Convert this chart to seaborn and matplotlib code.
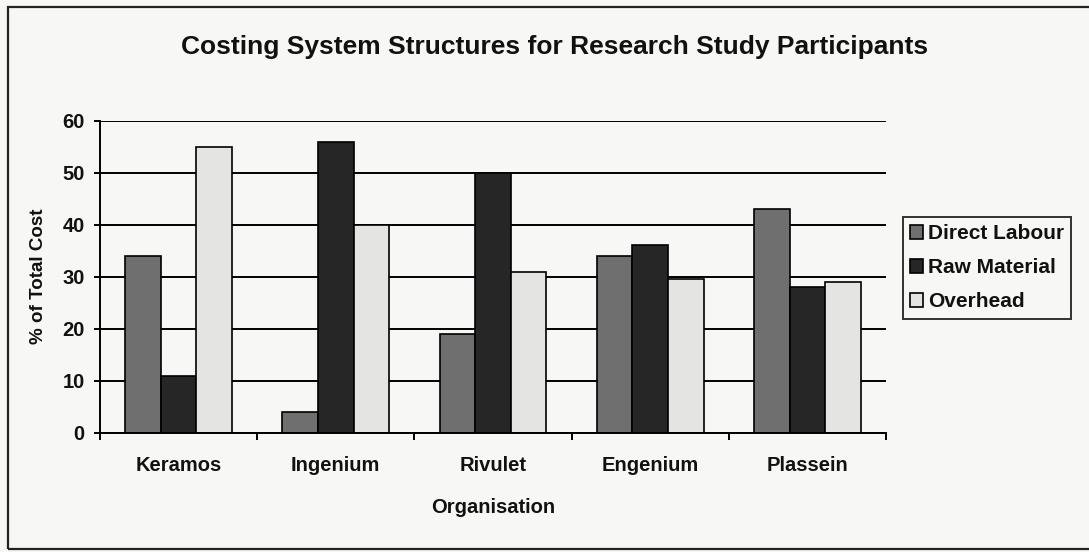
import matplotlib
matplotlib.use("Agg")
import matplotlib.pyplot as plt
from matplotlib.patches import Rectangle
import pandas as pd
import seaborn as sns

# Costing structure data (% of total cost)
organisations = ["Keramos", "Ingenium", "Rivulet", "Engenium", "Plassein"]
direct_labour = [34, 4, 19, 34, 43]
raw_material = [11, 56, 50, 36, 28]
overhead = [55, 40, 31, 29.5, 29]
series_names = ["Direct Labour", "Raw Material", "Overhead"]
series_colors = ["#6f6f6f", "#262626", "#e4e4e2"]

df = pd.DataFrame({
    "Organisation": organisations * 3,
    "Component": [series_names[0]] * 5 + [series_names[1]] * 5 + [series_names[2]] * 5,
    "Value": direct_labour + raw_material + overhead,
})

sns.set_theme(style="white")
plt.rcParams["font.family"] = ["Liberation Sans", "DejaVu Sans"]
plt.rcParams["font.weight"] = "bold"

W, H = 1089, 552
fig = plt.figure(figsize=(W / 100, H / 100), dpi=100)
bg = "#f7f7f5"
fig.patch.set_facecolor(bg)

# outer chart frame
fig.patches.append(Rectangle((8 / W, 1 - 549 / H), 1.2, (549 - 7) / H,
                             transform=fig.transFigure, fill=False,
                             edgecolor="#222222", linewidth=1.6))

ax = fig.add_axes([100 / W, 1 - 432.7 / H, 786 / W, 312 / H])
ax.set_facecolor(bg)

sns.barplot(data=df, x="Organisation", y="Value", hue="Component",
            palette=series_colors, width=0.68, edgecolor="black",
            linewidth=1.2, ax=ax, legend=True)

ax.set_ylim(0, 60)
ax.set_xlim(-0.5, 4.5)
ax.set_yticks(range(0, 61, 10))
ax.yaxis.grid(True, color="black", linewidth=1.4)
ax.set_axisbelow(True)
for s in ["top", "right"]:
    ax.spines[s].set_visible(False)
for s in ["left", "bottom"]:
    ax.spines[s].set_color("black")
    ax.spines[s].set_linewidth(1.4)

ax.tick_params(axis="y", which="major", direction="out", length=4, width=1.4,
               color="black", labelsize=14.5, pad=7, left=True)
ax.tick_params(axis="x", which="major", length=0, labelsize=14.5, pad=17)
ax.set_xticks([-0.5, 0.5, 1.5, 2.5, 3.5, 4.5], minor=True)
ax.tick_params(axis="x", which="minor", direction="out", length=5, width=1.4,
               color="black", bottom=True)
for lbl in ax.get_xticklabels() + ax.get_yticklabels():
    lbl.set_fontweight("bold")
    lbl.set_color("#111111")

ax.set_xlabel("Organisation", fontsize=14.5, fontweight="bold", labelpad=16,
              color="#111111")
ax.set_ylabel("% of Total Cost", fontsize=13.5, fontweight="bold", labelpad=11,
              color="#111111")

fig.text(555 / W, 1 - 47 / H, "Costing System Structures for Research Study Participants",
         ha="center", va="center", fontsize=19, fontweight="bold", color="#111111")

handles, labels = ax.get_legend_handles_labels()
ax.legend_.remove()
leg = fig.legend(handles, labels, loc="upper left",
                 bbox_to_anchor=(903 / W, 1 - 217 / H), frameon=True,
                 fancybox=False, edgecolor="black", facecolor=bg,
                 prop={"size": 15, "weight": "bold"}, handlelength=0.6,
                 handleheight=0.6, handletextpad=0.25, labelspacing=0.72,
                 borderpad=0.35, borderaxespad=0)
leg.get_frame().set_linewidth(1.4)
for t in leg.get_texts():
    t.set_color("#111111")

fig.savefig("out.png", dpi=100, facecolor=bg)
